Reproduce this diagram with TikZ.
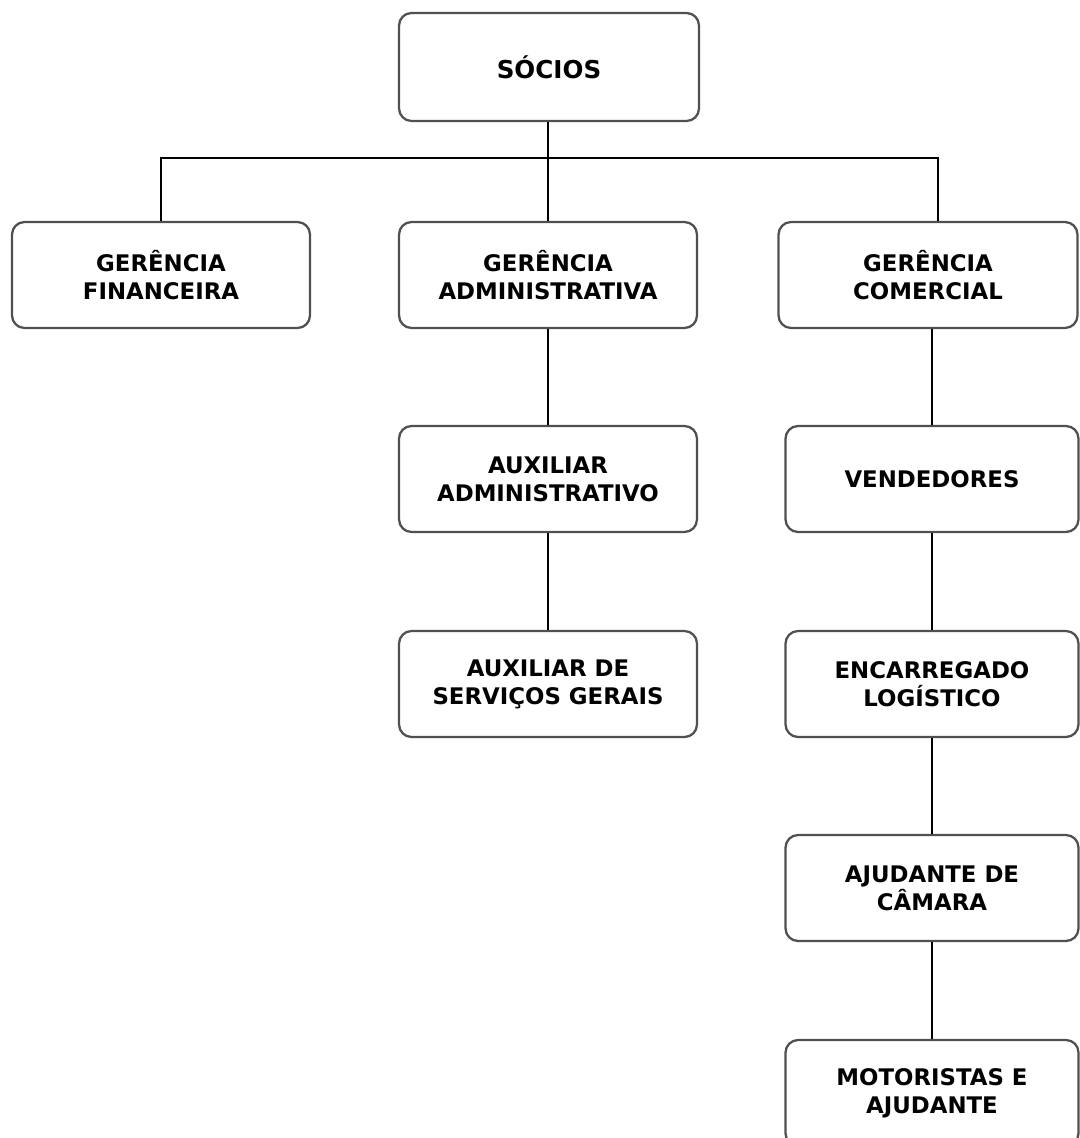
\documentclass[tikz,border=0pt]{standalone}
\usepackage{fontspec}
\setmainfont{DejaVu Sans}
\usetikzlibrary{positioning}
\definecolor{boxline}{HTML}{505050}

\begin{document}
\begin{tikzpicture}[x=0.02cm, y=-0.02cm,
    cargo/.style={draw=boxline, line width=1.3pt, rounded corners=0.25cm, fill=white,
      minimum width=5.96cm, minimum height=2.12cm, align=center,
      font=\fontsize{13}{16}\selectfont\bfseries},
    link/.style={draw=black, line width=1pt}]
        \useasboundingbox (0,0) rectangle (1079,1138);
        \node[cargo, minimum width=6cm, minimum height=2.16cm, font=\fontsize{14}{16}\selectfont\bfseries] (socios) at (549,67) {SÓCIOS};
        \node[cargo] (gfin) at (161,275) {GERÊNCIA\\FINANCEIRA};
        \node[cargo] (gadm) at (548,275) {GERÊNCIA\\ADMINISTRATIVA};
        \node[cargo, minimum width=5.98cm] (gcom) at (928,275) {GERÊNCIA\\COMERCIAL};
        \node[cargo] (auxadm) at (548,479) {AUXILIAR\\ADMINISTRATIVO};
        \node[cargo, minimum width=5.86cm] (vend) at (932,479) {VENDEDORES};
        \node[cargo] (auxserv) at (548,684) {AUXILIAR DE\\SERVIÇOS GERAIS};
        \node[cargo, minimum width=5.86cm] (enc) at (932,684) {ENCARREGADO\\LOGÍSTICO};
        \node[cargo, minimum width=5.86cm] (ajud) at (932,888) {AJUDANTE DE\\CÂMARA};
        \node[cargo, minimum width=5.86cm] (motor) at (932,1093) {MOTORISTAS E\\AJUDANTE};
        \coordinate (bar) at (548,158);
        \coordinate (barend) at (938,158);
        \draw[link] (socios.south -| bar) -- (bar);
        \draw[link] (gfin.north) |- (bar) -- (barend) -- (barend |- gcom.north);
        \draw[link] (bar) -- (gadm.north);
        \draw[link] (gadm) -- (auxadm);
        \draw[link] (auxadm) -- (auxserv);
        \draw[link] (gcom.south -| vend) -- (vend);
        \draw[link] (vend) -- (enc);
        \draw[link] (enc) -- (ajud);
        \draw[link] (ajud) -- (motor);
      \end{tikzpicture}
\end{document}
